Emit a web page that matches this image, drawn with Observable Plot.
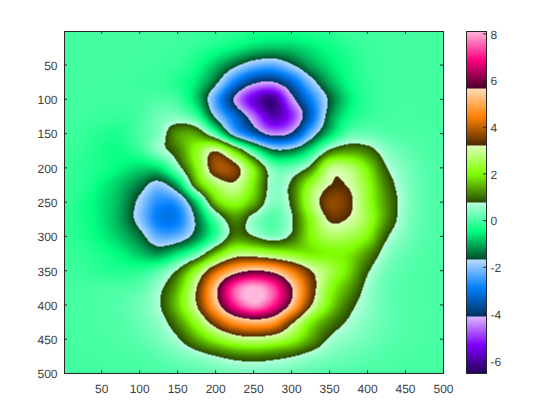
<!DOCTYPE html>
<html><head><meta charset="utf-8">
<script src="https://cdn.jsdelivr.net/npm/d3@7"></script>
<script src="https://cdn.jsdelivr.net/npm/@observablehq/plot@0.6"></script>
<style>
html,body{margin:0;padding:0;background:#fff}
#c{position:relative;width:560px;height:420px}
#c svg{position:absolute;left:0;top:0;background:transparent;font-family:"Liberation Sans",Arial,sans-serif;text-rendering:geometricPrecision}
</style></head><body><div id="c"></div>
<script>
const gridX = d3.range(0, 501, 25);
const gridY = d3.range(0, 501, 25);
const y000 = [0,0,0,0,0,0,-.02,-.05,-.1,-.15,-.25,-.3,-.3,-.2,-.15,-.08,-.03,0,0,0,0];
const y025 = [0,0,0,0,0,-.02,-.05,-.15,-.3,-.5,-.75,-.85,-.8,-.6,-.4,-.2,-.08,-.02,0,0,0];
const y050 = [0,0,0,0,-.02,-.05,-.12,-.35,-.85,-1.5,-2.1,-2.3,-1.75,-1.05,-.6,-.3,-.1,-.03,0,0,0];
const y075 = [0,0,0,-.02,-.05,-.1,-.25,-.6,-1.5,-2.9,-3.95,-4.15,-3.3,-2.0,-1.0,-.4,-.12,-.03,0,0,0];
const y100 = [0,-.02,-.03,-.03,0,.05,-.05,-.8,-2.4,-4.2,-5.6,-6.2,-4.4,-2.9,-1.55,-.6,-.15,-.03,0,0,0];
const y125 = [0,-.03,-.07,-.1,0,.3,.35,-.1,-1.8,-3.2,-4.6,-5.9,-5.1,-3.3,-1.3,-.4,-.1,0,.02,0,0];
const y150 = [-.03,-.1,-.2,-.25,.05,.4,1.3,1.3,0,-2.1,-3.4,-4.4,-4.0,-2.2,-.8,.1,.2,.1,.05,.03,0];
const y175 = [-.05,-.15,-.3,-.35,-.1,.5,1.1,2.2,3.15,1.7,-.1,-1.45,-1.4,-.5,.9,1.3,1.05,.45,.2,.07,.02];
const y200 = [-.08,-.2,-.3,-.5,-.7,-.6,.5,2.0,3.75,3.55,1.9,.3,.25,1.0,2.8,2.75,1.9,.8,.35,.12,.03];
const y225 = [-.1,-.2,-.5,-.85,-1.35,-1.95,-1.0,1.3,2.6,3.05,1.9,.5,.9,2.3,3.2,3.15,2.2,1.1,.45,.15,.04];
const y250 = [-.12,-.3,-.6,-1.0,-1.85,-2.7,-2.5,-.7,1.6,2.2,1.5,.4,.9,2.6,3.65,3.4,2.3,1.25,.5,.15,.05];
const y275 = [-.15,-.3,-.6,-1.05,-1.95,-2.95,-2.9,-1.5,.1,1.2,.5,.1,.7,2.1,3.3,3.15,2.4,1.25,.45,.15,.05];
const y300 = [-.12,-.25,-.5,-.85,-1.4,-2.3,-2.2,-1.3,-.1,1.1,.8,.4,.9,2.0,2.6,2.5,2.0,.85,.35,.12,.04];
const y325 = [-.08,-.15,-.3,-.5,-.85,-1.15,-.6,.2,1.6,2.7,2.7,2.4,2.1,1.9,2.0,1.9,1.3,.5,.2,.08,.03];
const y350 = [-.05,-.1,-.2,-.25,-.2,.1,.85,2.3,4.0,5.2,5.7,5.4,4.4,3.25,2.5,1.8,.85,.3,.12,.05,.02];
const y375 = [0,0,.02,.05,.15,.6,1.5,3.2,5.4,7.4,8.1,7.4,5.7,3.7,2.2,1.4,.6,.2,.1,.04,.02];
const y400 = [0,.02,.05,.12,.3,.7,1.7,3.2,5.2,7.0,7.9,7.1,5.4,3.3,1.9,1.0,.5,.2,.1,.05,.02];
const y425 = [0,.02,.05,.1,.25,.5,1.2,2.3,3.7,4.8,5.2,4.9,3.4,2.0,1.2,.7,.4,.2,.1,.05,.02];
const y450 = [0,.01,.03,.08,.15,.35,.7,1.4,2.1,2.7,2.9,2.7,2.2,1.4,.7,.45,.3,.15,.08,.04,.02];
const y475 = [0,0,.01,.03,.05,.15,.3,.5,.75,1.0,1.1,1.0,.8,.55,.35,.25,.15,.08,.04,.02,.01];
const y500 = [0,0,0,.01,.02,.05,.1,.17,.25,.32,.37,.33,.27,.18,.12,.08,.05,.03,.02,.01,0];
const rows = [y000,y025,y050,y075,y100,y125,y150,y175,y200,y225,y250,y275,y300,y325,y350,y375,y400,y425,y450,y475,y500];
const axisTicks = [50,100,150,200,250,300,350,400,450,500];
const barTicks = [-6,-4,-2,0,2,4,6,8];
const zMin = -6.55, zMax = 8.1;
const bandEdges = [-6.55,-4.11,-1.67,0.77,3.21,5.66,8.1];
const bandDark = ["#24005a","#003060","#004a28","#284a00","#4a2800","#4a0028"];
const bandPure = ["#8000ff","#0080ff","#00ff80","#80ff00","#ff8000","#ff0080"];
const bandPale = ["#dcb8ff","#b8dcff","#b8ffdc","#dcffb8","#ffdcb8","#ffb8dc"];
const ink = "#262626";
const textInk = "#404040";

const colorDomain = [], colorRange = [];
bandPure.forEach((p, i) => {
  const a = bandEdges[i], b = bandEdges[i + 1];
  colorDomain.push(a + (i ? 1e-6 : 0), (a + b) / 2, b);
  colorRange.push(bandDark[i], p, bandPale[i]);
});
const color = {type: "linear", domain: colorDomain, range: colorRange, interpolate: "rgb", clamp: true};
const table = rows.flatMap((r, j) => r.map((z, i) => ({x: gridX[i], y: gridY[j], z})));

function catmull(p0, p1, p2, p3, t) {
  return p1 + 0.5 * t * (p2 - p0 + t * (2 * p0 - 5 * p1 + 4 * p2 - p3 + t * (3 * (p1 - p2) + p3 - p0)));
}
function bicubic(index, w, h, X, Y, V) {
  const nx = gridX.length, ny = gridY.length, out = new Float64Array(w * h);
  const at = (i, j) => V[Math.max(0, Math.min(ny - 1, j)) * nx + Math.max(0, Math.min(nx - 1, i))];
  const x0 = X[0], dx = X[1] - X[0], y0 = Y[0], dy = Y[nx] - Y[0];
  for (let py = 0; py < h; ++py) {
    const v = (py + 0.5 - y0) / dy, j = Math.floor(v), tv = v - j;
    for (let px = 0; px < w; ++px) {
      const u = (px + 0.5 - x0) / dx, i = Math.floor(u), tu = u - i, c = [];
      for (let k = -1; k <= 2; ++k) c.push(catmull(at(i - 1, j + k), at(i, j + k), at(i + 1, j + k), at(i + 2, j + k), tu));
      out[py * w + px] = catmull(c[0], c[1], c[2], c[3], tv);
    }
  }
  return out;
}

const main = Plot.plot({
  width: 560, height: 420, marginLeft: 64, marginRight: 117, marginTop: 31, marginBottom: 47,
  style: {fontFamily: '"Liberation Sans",Arial,sans-serif', fontSize: "12px", color: textInk, background: "transparent"},
  x: {domain: [1, 500]}, y: {domain: [1, 500], reverse: true}, color,
  marks: [
    Plot.raster(table, {x: "x", y: "y", fill: "z", x1: 1, x2: 500, y1: 1, y2: 500, pixelSize: 1, interpolate: bicubic}),
    Plot.frame({stroke: ink}),
    Plot.ruleX(axisTicks, {x: d => d, y1: 500, y2: 496, stroke: ink}),
    Plot.ruleX(axisTicks, {x: d => d, y1: 1, y2: 5, stroke: ink}),
    Plot.ruleY(axisTicks, {y: d => d, x1: 1, x2: 5, stroke: ink}),
    Plot.ruleY(axisTicks, {y: d => d, x1: 500, x2: 496, stroke: ink}),
    Plot.axisX(axisTicks, {anchor: "bottom", tickSize: 0, tickPadding: 11, label: null, color: textInk}),
    Plot.axisY(axisTicks, {anchor: "left", tickSize: 0, tickPadding: 7, dy: 1, label: null, color: textInk})
  ]
});
const bar = Plot.plot({
  width: 560, height: 420, marginLeft: 466, marginRight: 74, marginTop: 31, marginBottom: 47,
  style: {fontFamily: '"Liberation Sans",Arial,sans-serif', fontSize: "12px", color: textInk, background: "transparent"},
  x: {domain: [0, 1], axis: null}, y: {domain: [zMin, zMax]}, color,
  marks: [
    Plot.raster({fill: (x, y) => y, x1: 0, x2: 1, y1: zMin, y2: zMax, pixelSize: 1}),
    Plot.frame({stroke: ink}),
    Plot.ruleY(barTicks, {y: d => d, x1: 1, x2: 0.85, stroke: ink}),
    Plot.axisY(barTicks, {anchor: "right", tickSize: 0, tickPadding: 4, dy: 1, label: null, color: textInk, tickFormat: d => String(d)})
  ]
});
document.getElementById("c").append(main, bar);
</script></body></html>
